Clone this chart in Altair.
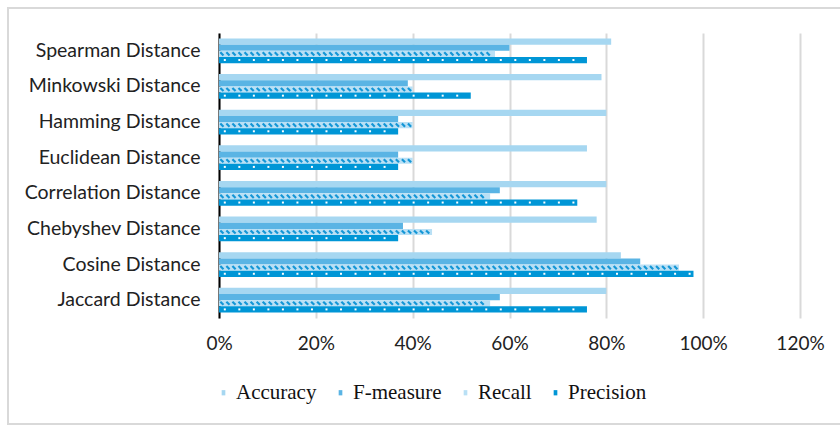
import altair as alt
import pandas as pd

# Distance measures, listed top to bottom
categories = [
    "Spearman Distance",
    "Minkowski Distance",
    "Hamming Distance",
    "Euclidean Distance",
    "Correlation Distance",
    "Chebyshev Distance",
    "Cosine Distance",
    "Jaccard Distance",
]
metrics = ["Accuracy", "F-measure", "Recall", "Precision"]

accuracy = [0.81, 0.79, 0.80, 0.76, 0.80, 0.78, 0.83, 0.80]
f_measure = [0.60, 0.39, 0.37, 0.37, 0.58, 0.38, 0.87, 0.58]
recall = [0.57, 0.40, 0.40, 0.40, 0.56, 0.44, 0.95, 0.56]
precision = [0.76, 0.52, 0.37, 0.37, 0.74, 0.37, 0.98, 0.76]

x_ticks = [0, 0.2, 0.4, 0.6, 0.8, 1.0, 1.2]

series = dict(zip(metrics, [accuracy, f_measure, recall, precision]))
rows = [
    {"distance": c, "metric": m, "value": vals[i]}
    for m, vals in series.items()
    for i, c in enumerate(categories)
]
df = pd.DataFrame(rows)

colors = ["#a6d7f1", "#5ab4e4", "#b9e0f5", "#0096d6"]
sans = "Lato"
serif = "Liberation Serif"

W, H = 581, 285

x_enc = alt.X(
    "value:Q",
    scale=alt.Scale(domain=[0, 1.2], nice=False),
    axis=alt.Axis(
        values=x_ticks,
        format=".0%",
        title=None,
        domain=False,
        ticks=False,
        grid=True,
        gridColor="#d9d9d9",
        gridWidth=2,
        labelFont=sans,
        labelFontSize=19,
        labelColor="#222222",
        labelPadding=16,
        labelFlush=False,
        labelOverlap=False,
    ),
)
y_enc = alt.Y(
    "distance:N",
    sort=categories,
    scale=alt.Scale(paddingInner=0.31, paddingOuter=0.155),
    axis=alt.Axis(
        title=None,
        ticks=False,
        domain=True,
        domainColor="#000000",
        domainWidth=2,
        labelFont=sans,
        labelFontSize=19.5,
        labelColor="#222222",
        labelPadding=19,
    ),
)
yoff_enc = alt.YOffset(
    "metric:N", sort=metrics, scale=alt.Scale(paddingInner=0, paddingOuter=0)
)

bars = (
    alt.Chart(df)
    .mark_bar(size=6.2)
    .encode(
        x=x_enc,
        y=y_enc,
        yOffset=yoff_enc,
        color=alt.Color(
            "metric:N",
            sort=metrics,
            scale=alt.Scale(domain=metrics, range=colors),
            legend=alt.Legend(
                title=None,
                orient="none",
                direction="horizontal",
                legendX=-6,
                legendY=349,
                symbolType="M-0.35,-0.5H0.35V0.5H-0.35Z",
                symbolSize=110,
                symbolStrokeWidth=0,
                labelFont=serif,
                labelFontSize=21,
                labelColor="#111111",
                labelOffset=2,
                columnPadding=13,
            ),
        ),
    )
)

# Diagonal hatching across the Recall bars
recall_hatch = (
    alt.Chart(df)
    .transform_filter("datum.metric == 'Recall'")
    .transform_calculate(pos="sequence(0.006, datum.value - 0.004, 0.0125)")
    .transform_flatten(["pos"])
    .mark_point(
        shape="M-0.5,-0.5L0.5,0.5",
        size=40,
        filled=False,
        stroke="#1496d6",
        strokeWidth=2.2,
        opacity=1,
    )
    .encode(x=alt.X("pos:Q"), y=alt.Y("distance:N", sort=categories), yOffset=yoff_enc)
)

# Small white dots along the Precision bars
precision_dots = (
    alt.Chart(df)
    .transform_filter("datum.metric == 'Precision'")
    .transform_calculate(pos="sequence(0.012, datum.value - 0.006, 0.03)")
    .transform_flatten(["pos"])
    .mark_square(size=4, color="#ffffff", opacity=1)
    .encode(x=alt.X("pos:Q"), y=alt.Y("distance:N", sort=categories), yOffset=yoff_enc)
)

frame = alt.Chart(df).mark_rect(
    fill=None, stroke="#d9d9d9", strokeWidth=1.5
).encode(
    x=alt.value(-211), x2=alt.value(630), y=alt.value(-25), y2=alt.value(391)
)

chart = (
    alt.layer(frame, bars, recall_hatch, precision_dots)
    .properties(
        width=W,
        height=H,
        autosize=alt.AutoSizeParams(type="none"),
        padding={"left": 219, "top": 33, "right": 40, "bottom": 107},
        background="#ffffff",
    )
    .configure_view(strokeWidth=0)
)

chart.save("out.html", embed_options={"renderer": "svg", "actions": False})
